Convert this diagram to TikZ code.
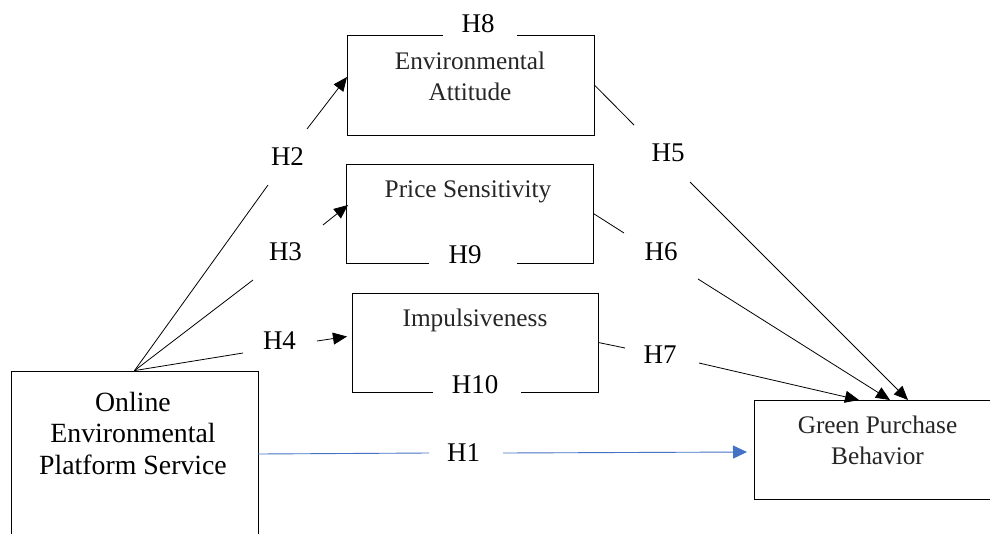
\documentclass[tikz,border=0pt]{standalone}
\usepackage{fontspec}
\setmainfont{Liberation Serif}
\usetikzlibrary{arrows.meta}
\definecolor{hblue}{HTML}{4472C4}
\begin{document}
\begin{tikzpicture}[x=1pt,y=-1pt,
  box/.style={draw, line width=0.8pt, minimum width=#1, inner sep=0pt},
  boxtext/.style={font=\fontsize{25.3}{31}\selectfont, align=center, text=black!85, inner sep=0pt},
  maintext/.style={font=\fontsize{27.8}{31.5}\selectfont, align=center, inner sep=0pt},
  hlab/.style={font=\fontsize{27}{32}\selectfont, inner sep=0pt},
  conn/.style={line width=0.8pt},
  arr/.style={conn, -{Triangle[length=14pt,width=12pt]}},
  barr/.style={line width=0.9pt, hblue, -{Triangle[length=14pt,width=13pt]}},
  mask/.style={fill=white}
]
\clip (0,0) rectangle (990,533);
\fill[white] (0,0) rectangle (990,533);

% boxes
\node[box=247pt, minimum height=189pt] (oeps) at (134.5,465.5) {};
\node[box=247pt, minimum height=100pt] (ea) at (470.5,85) {};
\node[box=247pt, minimum height=99pt] (ps) at (469.5,213.5) {};
\node[box=246pt, minimum height=99pt] (imp) at (475,342.5) {};
\node[box=280pt, minimum height=99pt] (gpb) at (894,449.5) {};

% gaps in edges
\fill[mask] (443,31) rectangle (517,39);
\fill[mask] (429,259) rectangle (517,267);
\fill[mask] (433,388) rectangle (521,396);

% box texts
\node[maintext] (toeps) at (133,433) {Online\\Environmental\\Platform Service};
\node[boxtext] (tea) at (470,76) {Environmental\\Attitude};
\node[boxtext, anchor=base] (tps) at (468,197.3) {Price Sensitivity};
\node[boxtext, anchor=base] (timp) at (475,326.7) {Impulsiveness};
\node[boxtext] (tgpb) at (877.5,440.5) {Green Purchase\\Behavior};

% hypothesis labels
\node[hlab] (h1) at (463.5,453) {H1};
\node[hlab] (h2) at (287.5,157) {H2};
\node[hlab] (h3) at (285.5,252) {H3};
\node[hlab] (h4) at (279.5,341) {H4};
\node[hlab] (h5) at (668,153) {H5};
\node[hlab] (h6) at (661,251.5) {H6};
\node[hlab] (h7) at (660,355) {H7};
\node[hlab] (h8) at (478,24) {H8};
\node[hlab] (h9) at (465,255) {H9};
\node[hlab] (h10) at (475,384.5) {H10};

% break points
\coordinate (s1) at (258,454);
\coordinate (a1) at (429,453);
\coordinate (b1) at (503,453);
\coordinate (e1) at (747,452);
\coordinate (a2) at (268,185);
\coordinate (b2) at (307,129);
\coordinate (e2) at (347,77);
\coordinate (a3) at (253,280);
\coordinate (b3) at (323,225);
\coordinate (e3) at (348,205);
\coordinate (a4) at (243,353);
\coordinate (b4) at (317,341);
\coordinate (e4) at (347,336.5);
\coordinate (a5) at (634,125);
\coordinate (b5) at (690,182);
\coordinate (e5) at (908,400);
\coordinate (a6) at (624,233);
\coordinate (b6) at (698,279);
\coordinate (e6) at (890,400);
\coordinate (a7) at (625,348);
\coordinate (b7) at (699,363);
\coordinate (e7) at (859,400);

% connectors
\draw[line width=0.9pt, hblue] (s1) -- (a1);
\draw[barr] (b1) -- (e1);
\draw[conn] (oeps.north) -- (a2);
\draw[arr] (b2) -- (e2);
\draw[conn] (oeps.north) -- (a3);
\draw[arr] (b3) -- (e3);
\draw[conn] (oeps.north) -- (a4);
\draw[arr] (b4) -- (e4);
\draw[conn] (ea.east) -- (a5);
\draw[arr] (b5) -- (e5);
\draw[conn] (ps.east) -- (a6);
\draw[arr] (b6) -- (e6);
\draw[conn] (imp.east) -- (a7);
\draw[arr] (b7) -- (e7);
\end{tikzpicture}
\end{document}
